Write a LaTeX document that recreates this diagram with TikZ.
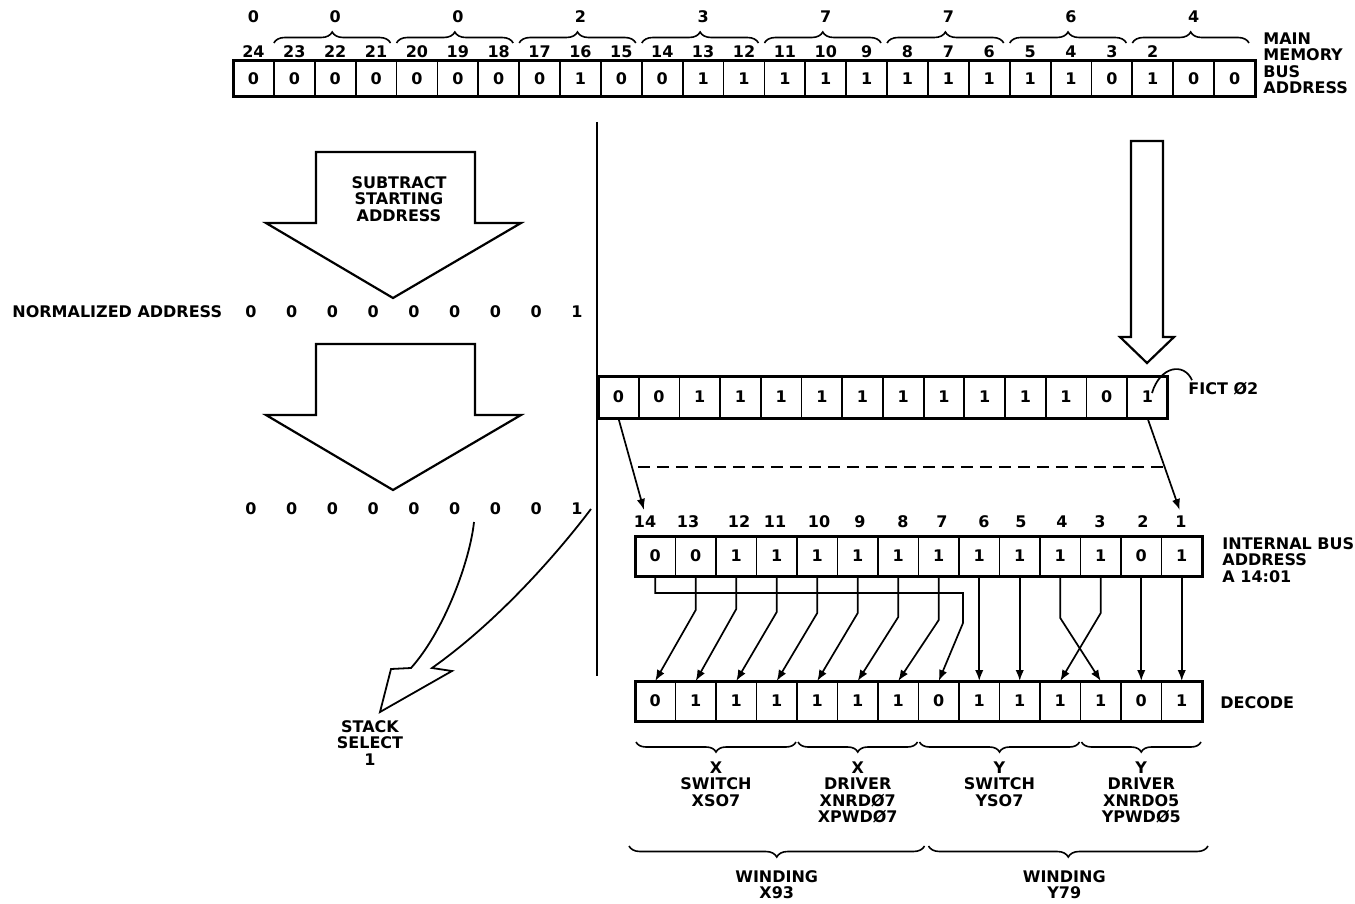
\documentclass[tikz,border=0pt]{standalone}
\usepackage{fontspec}
\setmainfont{DejaVu Sans}
\usepackage{tikz}
\usetikzlibrary{arrows.meta,positioning,calc,decorations.pathreplacing}

\newcommand\lblfont{\fontsize{8}{8.3}\selectfont\bfseries}

\tikzset{
  bitcell/.style 2 args={draw, line width=0.9pt, inner sep=0pt, outer sep=0pt,
    minimum width=#1, minimum height=#2, font=\lblfont},
  regframe/.style={draw, line width=1.5pt},
  lbl/.style={inner sep=1pt, font=\lblfont},
  wire/.style={line width=0.85pt},
  feed/.style={wire, -{Latex[length=5.5pt,width=4.2pt]}},
  blockarrow/.style={line width=1.1pt, line join=miter},
  topbrace/.style={line width=0.8pt, decorate, decoration={brace, amplitude=5.5pt}},
  lowbrace/.style={line width=0.8pt, decorate, decoration={brace, mirror, amplitude=5pt}},
}

\begin{document}
\begin{tikzpicture}[x=0.5pt, y=-0.5pt]
  \useasboundingbox (0,0) rectangle (1355,904);

  % MAIN MEMORY BUS ADDRESS register
  \foreach \v [count=\i from 0] in {0,0,0,0,0,0,0,0,1,0,0,1,1,1,1,1,1,1,1,1,1,0,1,0,0}{
    \pgfmathtruncatemacro\bitno{24-\i}
    \node[bitcell={20.44pt}{18pt}] (mm\bitno) at ({233+40.88*(\i+0.5)},79) {\v};
  }
  \draw[regframe] (mm24.north west) rectangle (mm0.south east);
  \foreach \bitno in {24,23,...,2}
    \node[lbl] (mmn\bitno) at ($(mm\bitno.north)+(0,-9)$) {\bitno};
  % octal groups
  \node[lbl] (grp24) at (mm24 |- 0,17) {0};
  \foreach \gh/\gl/\gv in {23/21/0, 20/18/0, 17/15/2, 14/12/3, 11/9/7, 8/6/7, 5/3/6, 2/0/4}{
    \draw[topbrace] ([yshift=9pt]mm\gh.north west) -- ([yshift=9pt,xshift=-3pt]mm\gl.north east);
    \node[lbl] (grp\gh) at ($(mm\gh.north)!0.5!(mm\gl.north)+(0,-44)$) {\gv};
  }
  \node[lbl, anchor=north west, align=left] (mmlbl) at (1261,30) {MAIN\\MEMORY\\BUS\\ADDRESS};

  % divider
  \coordinate (divtop) at (597,122);
  \coordinate (divbot) at (597,676);
  \draw[line width=1pt] (divtop) -- (divbot);

  % LEFT: subtract and normalize
  \foreach \dy in {0,192}
    \draw[blockarrow] (316,152+\dy) -- (475,152+\dy) -- (475,223+\dy) -- (521,223+\dy)
      -- (393,298+\dy) -- (266,223+\dy) -- (316,223+\dy) -- cycle;
  \node[lbl, anchor=north, align=center] (subtr) at (399,174) {SUBTRACT\\STARTING\\ADDRESS};
  \node[lbl, anchor=west] (normlbl) at (10,312) {NORMALIZED ADDRESS};
  \foreach \v [count=\i from 0] in {0,0,0,0,0,0,0,0,1}{
    \node[lbl] (na\i) at ({251+40.75*\i},312) {\v};
    \node[lbl] (nb\i) at ({251+40.75*\i},509) {\v};
  }
  % stack select
  \draw[blockarrow, line width=0.9pt] (474,522) .. controls (470,560) and (445,630) .. (411,668)
    -- (391,669) -- (380,712) -- (452,671) -- (432,668)
    .. controls (500,620) and (560,550) .. (591,509);
  \node[lbl, anchor=north, align=center] (stack) at (370,718) {STACK\\SELECT\\1};

  % RIGHT: down to fict register
  \draw[blockarrow] (1131,141) -- (1163,141) -- (1163,337) -- (1174,337) -- (1147,363)
    -- (1120,337) -- (1131,337) -- cycle;
  \foreach \v [count=\i from 0] in {0,0,1,1,1,1,1,1,1,1,1,1,0,1}{
    \pgfmathtruncatemacro\bitno{14-\i}
    \node[bitcell={20.35pt}{21pt}] (fi\bitno) at ({598+40.7*(\i+0.5)},397) {\v};
  }
  \draw[regframe] (fi14.north west) rectangle (fi1.south east);
  \node[lbl, anchor=west] (fict) at (1186,389) {FICT Ø2};
  \coordinate (tick) at (1152,393);
  \draw[wire] (tick) .. controls (1160,366) and (1184,362) .. ([xshift=3pt]fict.north west);

  % internal bus address
  \foreach \v [count=\i from 0] in {0,0,1,1,1,1,1,1,1,1,1,1,0,1}{
    \pgfmathtruncatemacro\bitno{14-\i}
    \node[bitcell={20.25pt}{20pt}] (ib\bitno) at ({635+40.5*(\i+0.5)},556) {\v};
  }
  \draw[regframe] (ib14.north west) rectangle (ib1.south east);
  \foreach \bitno/\x in {14/645, 13/688, 12/739, 11/775, 10/819, 9/860, 8/903, 7/942,
                         6/984, 5/1021, 4/1062, 3/1100, 2/1143, 1/1181}
    \node[lbl] (ibn\bitno) at (\x,522) {\bitno};
  \node[lbl, anchor=north west, align=left] (iblbl) at (1220,535) {INTERNAL BUS\\ADDRESS\\A 14:01};

  \draw[feed, shorten >=2pt] (fi14.south) -- (ibn14.north) node[pos=0.51, coordinate] (dl) {};
  \draw[feed, shorten >=2pt] (fi1.south) -- (ibn1.north) node[pos=0.51, coordinate] (dr) {};
  \draw[wire, dash pattern=on 6pt off 3.5pt, shorten <=3pt] (dl) -- (dr);

  % decode register
  \foreach \v [count=\i from 0] in {0,1,1,1,1,1,1,0,1,1,1,1,0,1}{
    \pgfmathtruncatemacro\bitno{14-\i}
    \node[bitcell={20.25pt}{20pt}] (dc\bitno) at ({635+40.5*(\i+0.5)},701) {\v};
  }
  \draw[regframe] (dc14.north west) rectangle (dc1.south east);
  \node[lbl, anchor=west] (dclbl) at (1218,703) {DECODE};

  % wiring
  \foreach \b in {6,5,2,1}
    \draw[feed] (ib\b.south) -- (dc\b.north);
  \foreach \a/\b/\dd in {13/14/34, 12/13/33, 11/12/36, 10/11/37, 9/10/37, 8/9/41, 7/8/44}
    \draw[feed] (ib\a.south) -- ++(0,\dd) -- (dc\b.north);
  \draw[feed] (ib4.south) -- ++(0,42) -- (dc3.north);
  \draw[feed] (ib3.south) -- ++(0,37) -- (dc4.north);
  \coordinate (jog) at (963,593);
  \draw[feed] (ib14.south) |- (jog) -- ++(0,30) -- (dc7.north);

  % field braces
  \foreach \ca/\cb/\txt/\nm in {14/11/{X\\SWITCH\\XSO7}/xsw, 10/8/{X\\DRIVER\\XNRDØ7\\XPWDØ7}/xdr,
                               7/4/{Y\\SWITCH\\YSO7}/ysw, 3/1/{Y\\DRIVER\\XNRDO5\\YPWDØ5}/ydr}{
    \draw[lowbrace] ([yshift=-10.5pt,xshift=0.5pt]dc\ca.south west) -- ([yshift=-10.5pt,xshift=-0.5pt]dc\cb.south east);
    \node[lbl, anchor=north, align=center] (\nm) at ($(dc\ca.south west)!0.5!(dc\cb.south east)+(0,38)$) {\txt};
  }
  \draw[lowbrace, decoration={amplitude=5.5pt}] ([yshift=-62.5pt,xshift=-3pt]dc14.south west) -- ([yshift=-62.5pt,xshift=3pt]dc8.south east);
  \draw[lowbrace, decoration={amplitude=5.5pt}] ([yshift=-62.5pt,xshift=5pt]dc7.south west) -- ([yshift=-62.5pt,xshift=3pt]dc1.south east);
  \node[lbl, anchor=north, align=center] (wx) at ($(dc14.south west)!0.5!(dc8.south east)+(0,147)$) {WINDING\\X93};
  \node[lbl, anchor=north, align=center] (wy) at ($(dc7.south west)!0.5!(dc1.south east)+(4,147)$) {WINDING\\Y79};
\end{tikzpicture}
\end{document}
